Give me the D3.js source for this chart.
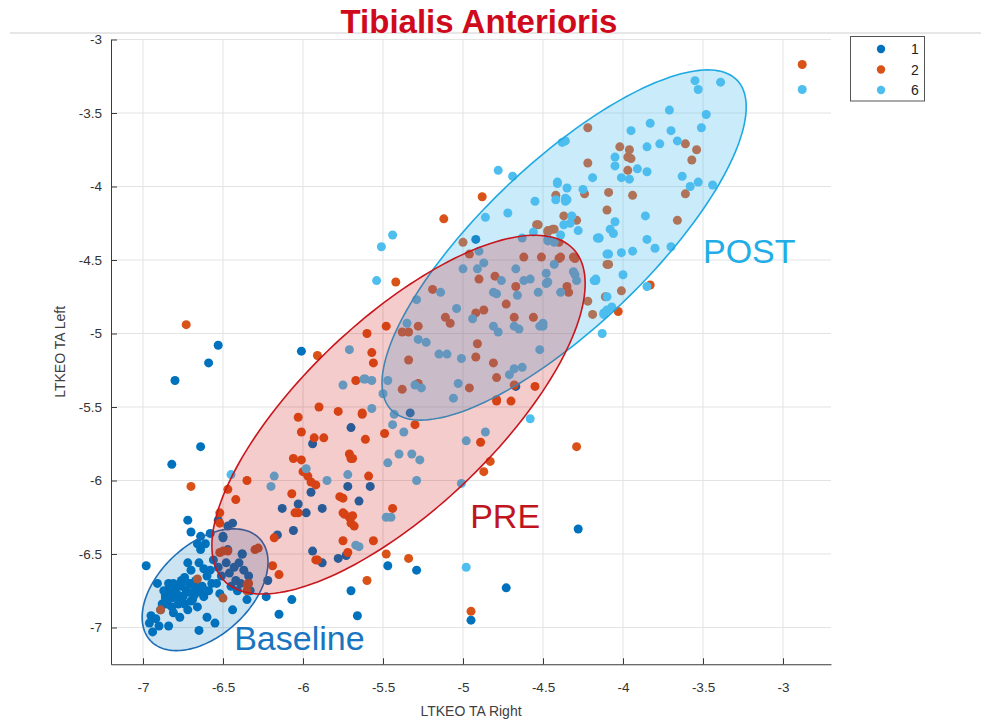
<!DOCTYPE html>
<html>
<head>
<meta charset="utf-8">
<script src="https://cdn.jsdelivr.net/npm/d3@7"></script>
<style>
  body { margin: 0; background: #fff; }
  svg { display: block; font-family: "Liberation Sans", Arial, sans-serif; }
</style>
</head>
<body>
<svg id="chart" width="981" height="722"></svg>
<script>
// ---- data ----
const xTicks = [-7, -6.5, -6, -5.5, -5, -4.5, -4, -3.5, -3];
const yTicks = [-7, -6.5, -6, -5.5, -5, -4.5, -4, -3.5, -3];
const xDomain = [-7.2, -2.7];
const yDomain = [-7.25, -3];

const seriesNames = ["1", "2", "6"];
const seriesColors = ["#0072BD", "#D95319", "#4DBEEE"];

// subject 1
const group1 = [
  [-6.96,-6.97],[-6.94,-7.03],[-6.92,-6.94],[-6.90,-6.99],[-6.87,-6.75],[-6.86,-6.80],[-6.85,-6.84],[-6.84,-6.70],
  [-6.83,-6.77],[-6.82,-6.86],[-6.81,-6.90],[-6.80,-6.79],[-6.79,-6.72],[-6.78,-6.84],[-6.77,-6.93],[-6.76,-6.68],
  [-6.75,-6.79],[-6.73,-6.75],[-6.72,-6.88],[-6.71,-6.70],[-6.70,-6.61],[-6.69,-6.81],[-6.68,-6.75],[-6.67,-6.68],
  [-6.66,-6.86],[-6.65,-6.56],[-6.64,-6.47],[-6.63,-6.72],[-6.62,-6.79],[-6.61,-6.43],[-6.60,-6.65],[-6.59,-6.75],
  [-6.58,-6.61],[-6.57,-6.70],[-6.56,-6.54],[-6.55,-6.97],[-6.54,-6.70],[-6.53,-6.59],[-6.52,-6.77],[-6.51,-6.65],
  [-6.50,-6.38],[-6.48,-6.56],[-6.47,-6.47],[-6.46,-6.63],[-6.45,-6.72],[-6.44,-6.88],[-6.43,-6.59],[-6.42,-6.68],
  [-6.41,-6.75],[-6.40,-6.56],[-6.39,-6.70],[-6.38,-6.50],[-6.37,-6.61],[-6.35,-6.81],[-6.34,-6.65],[-6.33,-6.75],
  [-6.65,-7.02],[-6.60,-6.93],[-6.84,-6.99],[-6.91,-6.70],[-6.72,-6.56],[-6.66,-6.43],[-6.47,-6.31],[-6.58,-6.36],
  [-6.64,-6.38],[-6.88,-6.84],[-6.81,-6.70],[-6.77,-6.79],[-6.70,-6.70],[-6.80,-6.75],[-6.78,-6.78],[-6.76,-6.72],
  [-6.74,-6.84],[-6.82,-6.80],[-6.72,-6.76],[-6.70,-6.82],[-6.68,-6.78],[-6.84,-6.74],[-6.86,-6.78],[-6.66,-6.72],
  [-6.64,-6.76],[-6.95,-6.92],[-6.89,-6.88],[-6.74,-6.66],[-6.62,-6.60],
  [-6.80,-5.32],[-6.59,-5.20],[-6.53,-5.08],[-6.64,-5.77],[-6.82,-5.89],[-6.72,-6.27],[-6.70,-6.35],[-6.98,-6.58],
  [-6.01,-5.12],[-5.70,-5.64],[-5.94,-5.75],[-5.95,-6.08],[-6.13,-6.19],[-6.03,-6.16],[-5.98,-6.22],[-5.88,-6.19],
  [-6.06,-6.34],[-6.16,-6.37],[-5.94,-6.48],[-5.88,-6.56],[-5.78,-6.53],[-5.73,-6.51],[-5.72,-6.04],[-5.70,-6.75],
  [-5.66,-6.92],[-6.15,-6.91],[-6.07,-6.81],[-6.23,-6.79],[-6.44,-6.29],[-6.53,-6.27],[-6.50,-6.39],[-6.38,-6.50],
  [-5.58,-6.04],[-5.65,-6.14],[-5.33,-5.54],[-5.47,-6.58],[-5.29,-6.61],[-4.73,-6.73],[-4.28,-6.33],[-4.95,-6.95],
  [-4.92,-4.36],[-4.67,-5.36],[-6.22,-6.68]
];

// subject 2
const group2 = [
  [-6.73,-4.94],[-6.70,-6.04],[-6.35,-6.00],[-5.95,-6.01],[-5.92,-6.03],[-6.07,-6.09],[-6.42,-6.13],[-6.03,-6.22],
  [-6.52,-6.22],[-6.52,-6.29],[-6.18,-6.39],[-6.28,-6.46],[-6.30,-6.47],[-6.50,-6.48],[-6.47,-6.48],[-5.92,-6.54],
  [-6.19,-6.58],[-6.15,-6.64],[-6.34,-6.70],[-6.35,-6.75],[-6.50,-6.80],[-6.47,-6.06],[-6.06,-5.85],[-6.01,-5.86],
  [-6.00,-5.94],[-5.97,-5.97],[-6.03,-5.57],[-6.01,-5.67],[-5.90,-5.50],[-5.93,-5.71],[-5.87,-5.71],[-6.05,-6.22],
  [-5.77,-6.11],[-5.75,-6.22],[-5.71,-6.25],[-5.70,-6.29],[-5.71,-5.82],[-5.70,-5.85],[-5.72,-6.49],[-5.91,-6.54],
  [-6.52,-6.49],[-6.89,-6.88],[-6.66,-6.67],[-6.35,-6.71],
  [-5.78,-5.53],[-5.63,-5.55],[-5.61,-5.72],[-5.49,-5.68],[-5.69,-5.85],[-5.59,-5.97],[-5.75,-6.12],[-5.74,-6.23],
  [-5.69,-6.24],[-5.68,-6.31],[-5.44,-6.19],[-5.75,-6.41],[-5.56,-6.41],[-5.48,-6.50],[-5.34,-6.53],[-5.60,-6.68],
  [-4.89,-5.74],[-4.83,-5.87],[-4.87,-5.94],[-4.29,-5.77],[-4.95,-6.89],[-4.79,-5.46],[-4.70,-5.46],[-5.30,-5.62],
  [-4.88,-4.07],[-5.12,-4.22],[-5.42,-4.65],[-5.00,-4.38],[-4.42,-4.06],[-4.24,-4.05],[-4.37,-4.20],[-4.29,-4.23],
  [-4.54,-4.26],[-4.44,-4.29],[-4.40,-4.38],[-4.40,-4.49],[-4.62,-4.48],[-4.51,-4.48],[-4.30,-4.49],[-4.96,-4.46],
  [-4.90,-4.63],[-4.80,-4.61],[-4.67,-4.68],[-4.73,-4.80],[-4.35,-4.68],[-4.34,-4.72],[-4.22,-4.78],[-4.19,-4.87],
  [-5.19,-4.70],[-5.11,-4.89],[-5.08,-4.93],[-4.92,-4.86],[-4.87,-4.84],[-4.68,-4.89],[-4.56,-4.89],[-4.91,-5.07],
  [-4.92,-5.16],[-4.81,-5.20],[-4.79,-5.30],[-4.68,-5.35],[-4.55,-5.36],[-5.34,-5.18],[-5.28,-5.34],[-5.38,-5.38],
  [-4.96,-5.37],[-5.60,-5.00],[-5.48,-4.95],[-5.57,-5.13],[-5.56,-5.20],[-5.67,-5.32],[-5.63,-5.54],[-5.38,-4.99],
  [-5.34,-4.99],[-5.28,-4.95],[-4.79,-5.45],[-5.91,-5.15],
  [-4.22,-3.60],[-4.02,-3.73],[-3.96,-3.75],[-3.97,-3.80],[-3.95,-3.81],[-4.22,-3.84],[-3.97,-3.89],[-3.61,-3.71],
  [-3.54,-3.75],[-3.57,-3.82],[-4.09,-4.04],[-3.94,-4.06],[-3.61,-4.05],[-4.10,-4.16],[-4.43,-4.29],[-4.47,-4.30],
  [-3.66,-4.23],[-4.09,-4.53],[-4.01,-4.71],[-4.31,-4.48],[-4.39,-4.48],[-3.83,-4.67],[-4.03,-4.85],[-4.53,-4.26],
  [-4.47,-4.31],[-4.10,-4.53],[-4.11,-4.75],[-2.88,-3.17]
];

// subject 6
const group6 = [
  [-3.55,-3.28],[-3.53,-3.34],[-3.39,-3.29],[-3.71,-3.48],[-3.48,-3.51],[-3.83,-3.57],[-3.51,-3.60],[-3.95,-3.62],
  [-3.70,-3.62],[-3.66,-3.69],[-3.77,-3.71],[-3.85,-3.73],[-4.38,-3.70],[-4.36,-3.69],[-4.05,-3.80],[-4.05,-3.86],
  [-3.91,-3.88],[-3.85,-3.90],[-4.01,-3.94],[-3.96,-3.95],[-4.19,-3.94],[-3.63,-3.93],[-3.53,-3.97],[-3.58,-4.00],
  [-3.44,-3.99],[-4.41,-3.97],[-4.35,-4.01],[-4.35,-4.09],[-4.25,-4.02],[-3.86,-4.20],[-4.32,-4.20],[-4.37,-4.26],
  [-4.33,-4.25],[-4.28,-4.30],[-4.05,-4.24],[-4.08,-4.29],[-4.06,-4.32],[-4.15,-4.35],[-3.85,-4.36],[-3.80,-4.42],
  [-3.70,-4.41],[-3.94,-4.44],[-4.01,-4.45],[-4.09,-4.46],[-4.00,-4.60],[-4.17,-4.64],[-3.85,-4.68],[-4.10,-4.75],
  [-4.07,-4.82],[-4.12,-4.86],[-4.13,-5.00],[-4.43,-4.38],[-4.47,-4.36],[-4.39,-4.33],[-4.48,-4.59],[-4.43,-4.53],
  [-4.31,-4.58],[-4.29,-4.64],[-4.47,-4.65],[-4.39,-4.72],[-4.50,-4.93],[-4.50,-4.95],[-2.88,-3.34],
  [-5.51,-4.41],[-5.44,-4.33],[-5.54,-4.64],[-4.86,-4.21],[-4.72,-4.18],[-4.41,-3.98],[-4.36,-4.08],[-4.63,-4.35],
  [-4.56,-4.31],[-4.47,-4.37],[-4.16,-4.35],[-4.90,-4.44],[-4.91,-4.56],[-4.87,-4.52],[-5.00,-4.56],[-4.67,-4.56],
  [-4.76,-4.64],[-4.79,-4.73],[-4.81,-4.72],[-4.66,-4.74],[-4.62,-4.64],[-4.58,-4.63],[-4.53,-4.72],[-4.48,-4.66],
  [-4.30,-4.60],[-4.18,-4.64],[-5.14,-4.72],[-5.29,-4.77],[-5.04,-4.83],[-4.94,-4.90],[-4.81,-4.95],[-4.78,-4.99],
  [-4.68,-4.95],[-4.65,-4.97],[-4.52,-4.95],[-4.52,-5.11],[-5.35,-4.93],[-5.28,-5.04],[-5.23,-5.06],[-5.15,-5.14],
  [-5.10,-5.14],[-5.01,-5.17],[-4.71,-5.28],[-4.68,-5.24],[-4.63,-5.23],[-5.03,-5.34],[-5.06,-5.44],[-5.30,-5.35],
  [-5.26,-5.37],[-5.47,-5.32],[-5.50,-5.41],[-5.57,-5.32],[-5.61,-5.31],[-5.71,-5.11],[-5.75,-5.35],[-5.62,-5.31],
  [-4.55,-4.10],[-4.42,-4.09],[-4.36,-4.10],[-4.15,-4.35],[-4.10,-4.46],[-4.17,-4.63],[-4.10,-4.84],[-4.12,-4.87],
  [-4.58,-5.58],[-5.01,-6.02],[-4.98,-6.59],[-5.57,-5.51],[-5.44,-5.62],[-5.37,-5.67],[-5.40,-5.82],[-5.32,-5.82],
  [-5.27,-5.86],[-5.47,-5.88],[-5.29,-6.00],[-5.72,-5.96],[-5.48,-6.25],[-5.45,-6.25],[-5.65,-6.45],[-4.98,-5.73],
  [-4.86,-5.67],[-5.43,-5.55],[-6.18,-5.97],[-6.20,-6.04],[-5.85,-6.00],[-6.45,-5.96],[-5.98,-5.92],[-5.67,-6.44],
  [-4.78,-3.89],[-4.69,-3.93]
];

// group ellipses: centre plus two half-axis vectors, all in data units
const ellipses = [
  { name: "POST",     cx: -4.368, cy: -4.398, u: [1.0818, 1.1202], v: [-0.3537, 0.4046], stroke: "#1fa9e2", fill: "#4DBEEE", alpha: 0.3 },
  { name: "Baseline", cx: -6.612, cy: -6.743, u: [0.3420, 0.3459],  v: [-0.1944, 0.2277], stroke: "#1f6fb6", fill: "#0072BD", alpha: 0.2 },
  { name: "PRE",      cx: -5.403, cy: -5.552, u: [1.0927, 1.1265], v: [-0.4083, 0.4692], stroke: "#c8161d", fill: "#cc0000", alpha: 0.2 }
];

const groupLabels = [
  { text: "POST",     x: -3.50,  y: -4.52,  color: "#22ade6" },
  { text: "PRE",      x: -4.955, y: -6.325, color: "#c0141e" },
  { text: "Baseline", x: -6.43,  y: -7.155, color: "#1a75c0" }
];

// ---- layout ----
const svg = d3.select("#chart");
const plot = { left: 111, right: 831, top: 39.5, bottom: 664.25 };
const x = d3.scaleLinear().domain(xDomain).range([plot.left, plot.right]);
const y = d3.scaleLinear().domain(yDomain).range([plot.bottom, plot.top]);

// rule under the title
svg.append("line")
  .attr("x1", 10).attr("x2", 981).attr("y1", 33).attr("y2", 33)
  .attr("stroke", "#cfcfcf").attr("stroke-width", 1);

// title
svg.append("text")
  .attr("x", 479).attr("y", 33)
  .attr("text-anchor", "middle")
  .attr("font-size", 33).attr("font-weight", "bold")
  .attr("fill", "#cf0a1c")
  .text("Tibialis Anterioris");

// grid
const grid = svg.append("g").attr("stroke", "#e3e3e3").attr("stroke-width", 1);
grid.selectAll(".gx").data(xTicks).join("line")
  .attr("x1", d => x(d)).attr("x2", d => x(d))
  .attr("y1", plot.top).attr("y2", plot.bottom);
grid.selectAll(".gy").data(yTicks).join("line")
  .attr("x1", plot.left).attr("x2", plot.right)
  .attr("y1", d => y(d)).attr("y2", d => y(d));

// axes (ticks pointing inward, plain hyphen minus in labels)
const axisColor = "#3a3a3a";
const plainNum = d => String(d);
const xAxis = svg.append("g")
  .attr("transform", `translate(0,${plot.bottom})`)
  .call(d3.axisBottom(x).tickValues(xTicks).tickSizeInner(-6).tickSizeOuter(0).tickPadding(18).tickFormat(plainNum));
const yAxis = svg.append("g")
  .attr("transform", `translate(${plot.left},0)`)
  .call(d3.axisLeft(y).tickValues(yTicks).tickSizeInner(-6).tickSizeOuter(0).tickPadding(9).tickFormat(plainNum));
[xAxis, yAxis].forEach(g => {
  g.select(".domain").attr("stroke", axisColor).attr("stroke-width", 1);
  g.selectAll(".tick line").attr("stroke", axisColor);
  g.selectAll(".tick text")
    .attr("fill", "#333")
    .attr("font-size", 13.5)
    .attr("font-family", "'Liberation Sans', Arial, sans-serif");
});

// axis titles
svg.append("text")
  .attr("x", (plot.left + plot.right) / 2).attr("y", 716)
  .attr("text-anchor", "middle").attr("font-size", 14).attr("fill", "#404040")
  .text("LTKEO TA Right");
svg.append("text")
  .attr("transform", `translate(65,${(plot.top + plot.bottom) / 2}) rotate(-90)`)
  .attr("text-anchor", "middle").attr("font-size", 14).attr("fill", "#404040")
  .text("LTKEO TA Left");

// scatter points, one layer per subject
const groups = [group1, group2, group6];
groups.forEach((pts, i) => {
  svg.append("g").selectAll("circle").data(pts).join("circle")
    .attr("cx", d => x(d[0]))
    .attr("cy", d => y(d[1]))
    .attr("r", 4.5)
    .attr("fill", seriesColors[i]);
});

// translucent group ellipses over the points
const ellipseLine = d3.line().x(p => x(p[0])).y(p => y(p[1])).curve(d3.curveLinearClosed);
ellipses.forEach(e => {
  const pts = d3.range(0, 2 * Math.PI, Math.PI / 90).map(t => [
    e.cx + Math.cos(t) * e.u[0] + Math.sin(t) * e.v[0],
    e.cy + Math.cos(t) * e.u[1] + Math.sin(t) * e.v[1]
  ]);
  svg.append("path")
    .attr("d", ellipseLine(pts))
    .attr("fill", e.fill).attr("fill-opacity", e.alpha)
    .attr("stroke", e.stroke).attr("stroke-width", 1.6);
});

// group names
svg.append("g").selectAll("text").data(groupLabels).join("text")
  .attr("x", d => x(d.x)).attr("y", d => y(d.y))
  .attr("font-size", 34).attr("fill", d => d.color)
  .text(d => d.text);

// legend
const legend = svg.append("g");
legend.append("rect")
  .attr("x", 850.5).attr("y", 36.5).attr("width", 74).attr("height", 64.5)
  .attr("fill", "#fff").attr("stroke", "#555").attr("stroke-width", 1);
seriesNames.forEach((name, i) => {
  legend.append("circle")
    .attr("cx", 881).attr("cy", 49 + i * 20.5).attr("r", 4.2)
    .attr("fill", seriesColors[i]);
  legend.append("text")
    .attr("x", 911).attr("y", 54 + i * 20.5)
    .attr("font-size", 14).attr("fill", "#222")
    .text(name);
});
</script>
</body>
</html>
